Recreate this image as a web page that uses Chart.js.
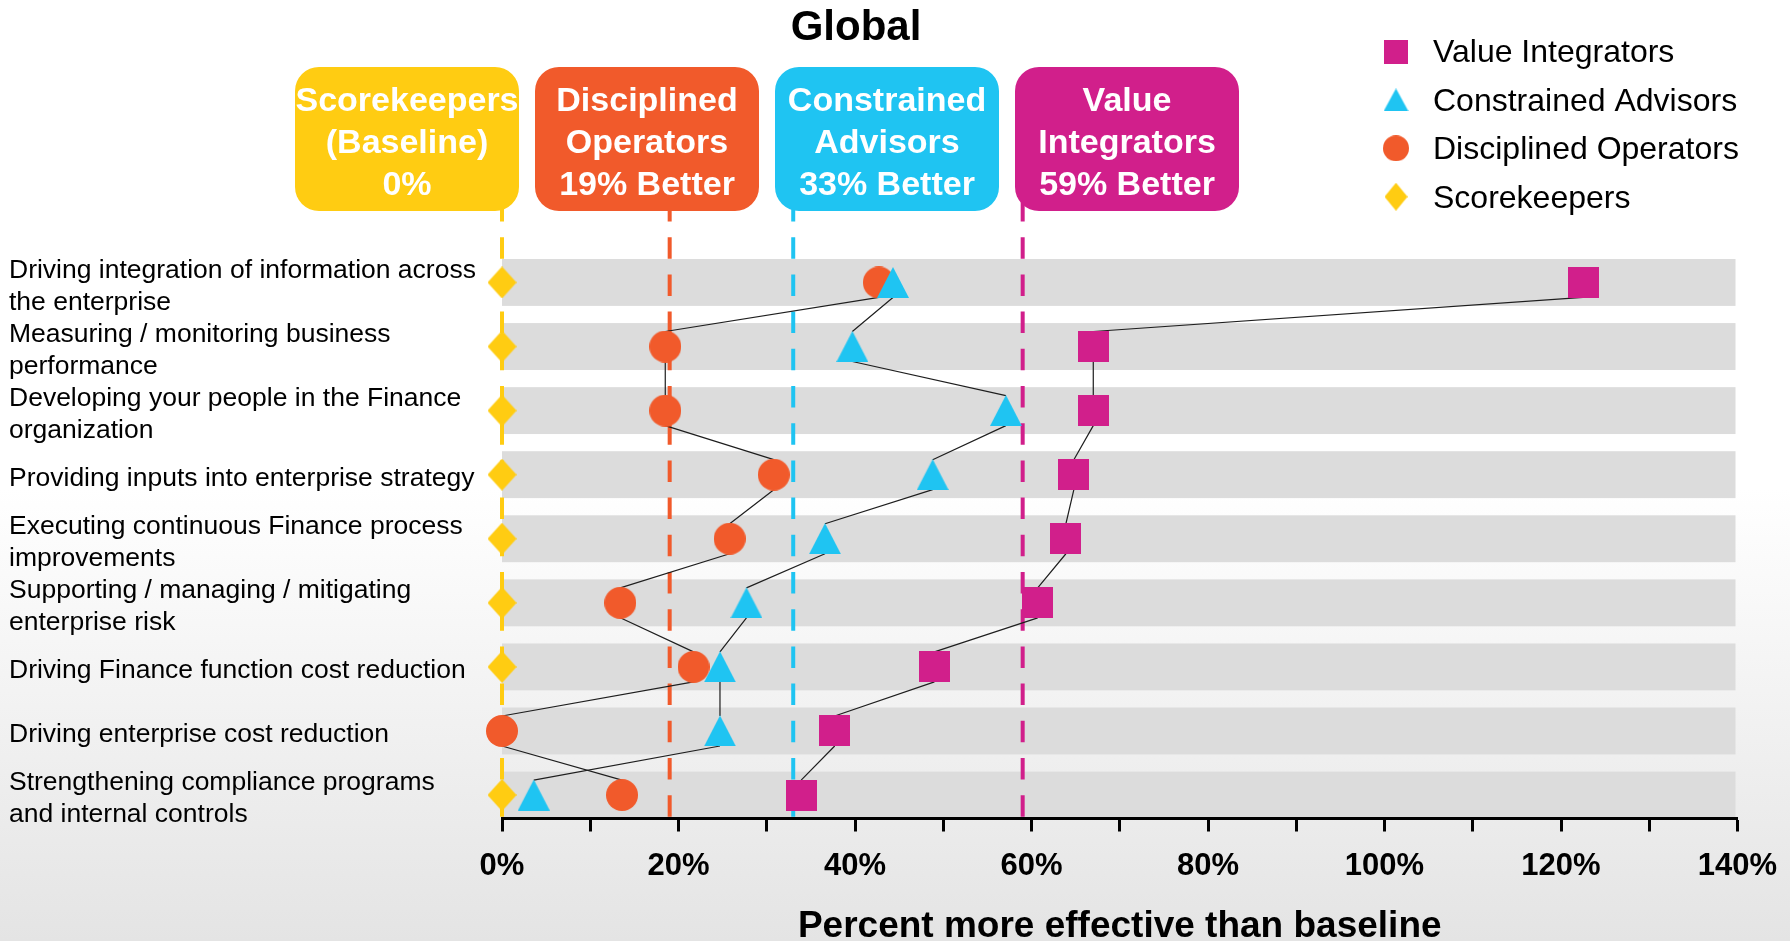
<!DOCTYPE html>
<html>
<head>
<meta charset="utf-8">
<title>Global</title>
<script src="https://cdn.jsdelivr.net/npm/chart.js"></script>
<style>
  html, body { margin: 0; padding: 0; overflow: hidden; }
  body {
    width: 1790px; height: 941px;
    background: linear-gradient(to bottom, #ffffff 0%, #ffffff 52%, #e4e4e4 100%);
  }
  canvas { display: block; }
</style>
</head>
<body>
<canvas id="chart" width="1790" height="941"></canvas>
<script>
const FONT = '"Liberation Sans", Arial, Helvetica, sans-serif';

const categories = [
  ['Driving integration of information across', 'the enterprise'],
  ['Measuring / monitoring business', 'performance'],
  ['Developing your people in the Finance', 'organization'],
  'Providing inputs into enterprise strategy',
  ['Executing continuous Finance process', 'improvements'],
  ['Supporting / managing / mitigating', 'enterprise risk'],
  'Driving Finance function cost reduction',
  'Driving enterprise cost reduction',
  ['Strengthening compliance programs', 'and internal controls']
];

// percent more effective than baseline, one value per category
const valueIntegrators     = [122.5, 67.0, 67.0, 64.8, 63.9, 60.7, 49.0, 37.7, 33.9];
const constrainedAdvisors  = [44.3, 39.7, 57.1, 48.8, 36.6, 27.7, 24.7, 24.7, 3.6];
const disciplinedOperators = [42.7, 18.5, 18.5, 30.8, 25.8, 13.4, 21.7, 0.0, 13.6];
const scorekeepers         = [0, 0, 0, 0, 0, 0, 0, 0, 0];

// group averages shown in the header boxes
const groupNames    = [['Scorekeepers', '(Baseline)'], ['Disciplined', 'Operators'], ['Constrained', 'Advisors'], ['Value', 'Integrators']];
const groupAverages = [0, 19, 33, 59];

const xMax = 140;
const xStep = 10;
const xLabelStep = 20;

const colors = {
  yellow: '#ffcc12',
  orange: '#f15a2b',
  cyan: '#1fc4f2',
  magenta: '#d11f8b'
};
const groupColors = [colors.yellow, colors.orange, colors.cyan, colors.magenta];

function marker(shape, w, h, color) {
  const c = document.createElement('canvas');
  c.width = w; c.height = h;
  const g = c.getContext('2d');
  g.fillStyle = color;
  g.beginPath();
  if (shape === 'square') {
    g.rect(0, 0, w, h);
  } else if (shape === 'triangle') {
    g.moveTo(w / 2, 0); g.lineTo(w, h); g.lineTo(0, h); g.closePath();
  } else if (shape === 'circle') {
    g.ellipse(w / 2, h / 2, w / 2, h / 2, 0, 0, Math.PI * 2);
  } else {
    g.moveTo(w / 2, 0); g.lineTo(w, h / 2); g.lineTo(w / 2, h); g.lineTo(0, h / 2); g.closePath();
  }
  g.fill();
  return c;
}

const series = [
  { label: 'Value Integrators', values: valueIntegrators, color: colors.magenta,
    point: marker('square', 31, 31, colors.magenta), key: marker('square', 24, 24, colors.magenta), linked: true },
  { label: 'Constrained Advisors', values: constrainedAdvisors, color: colors.cyan,
    point: marker('triangle', 32, 31, colors.cyan), key: marker('triangle', 25, 23, colors.cyan), linked: true },
  { label: 'Disciplined Operators', values: disciplinedOperators, color: colors.orange,
    point: marker('circle', 32, 32, colors.orange), key: marker('circle', 26, 26, colors.orange), linked: true },
  { label: 'Scorekeepers', values: scorekeepers, color: colors.yellow,
    point: marker('diamond', 29, 32, colors.yellow), key: marker('diamond', 23, 28, colors.yellow), linked: false }
];

const BAND_SHARE = 0.732;

const decorations = {
  id: 'decorations',
  beforeDraw(chart) {
    const { ctx, scales: { x, y } } = chart;
    const unit = Math.abs(y.getPixelForValue(2) - y.getPixelForValue(1));
    const half = unit * BAND_SHARE / 2;
    ctx.save();
    ctx.fillStyle = '#dcdcdc';
    categories.forEach((_, i) => {
      const cy = y.getPixelForValue(i + 1);
      ctx.fillRect(x.getPixelForValue(0), cy - half, x.getPixelForValue(xMax) - x.getPixelForValue(0) - 2, half * 2);
    });
    ctx.restore();
  },
  beforeDatasetsDraw(chart) {
    const { ctx, chartArea, scales: { x, y } } = chart;
    ctx.save();
    // dashed average lines hanging from the header boxes
    ctx.lineWidth = 4;
    ctx.setLineDash([21.5, 15.7]);
    groupAverages.forEach((v, i) => {
      const px = x.getPixelForValue(v);
      ctx.strokeStyle = groupColors[i];
      ctx.beginPath();
      ctx.moveTo(px, 200);
      ctx.lineTo(px, chartArea.bottom - 1);
      ctx.stroke();
    });
    // thin connectors run from the bottom of one marker to the top of the next
    ctx.setLineDash([]);
    ctx.lineWidth = 1.2;
    ctx.strokeStyle = '#1e1e1e';
    const r = 15;
    series.filter(s => s.linked).forEach(s => {
      ctx.beginPath();
      for (let i = 0; i < s.values.length - 1; i++) {
        ctx.moveTo(x.getPixelForValue(s.values[i]), y.getPixelForValue(i + 1) + r);
        ctx.lineTo(x.getPixelForValue(s.values[i + 1]), y.getPixelForValue(i + 2) - r);
      }
      ctx.stroke();
    });
    ctx.restore();
  },
  afterDraw(chart) {
    const { ctx } = chart;
    ctx.save();

    // title
    ctx.fillStyle = '#000';
    ctx.font = 'bold 42px ' + FONT;
    ctx.textAlign = 'center';
    ctx.textBaseline = 'middle';
    ctx.fillText('Global', 856, 28);

    // header boxes
    const boxW = 224, boxH = 144, boxTop = 67;
    groupAverages.forEach((v, i) => {
      const left = 295 + i * 240;
      ctx.fillStyle = groupColors[i];
      ctx.beginPath();
      ctx.roundRect(left, boxTop, boxW, boxH, 24);
      ctx.fill();
      ctx.fillStyle = '#fff';
      ctx.font = 'bold 34px ' + FONT;
      const lines = groupNames[i].concat(v === 0 ? v + '%' : v + '% Better');
      lines.forEach((t, j) => ctx.fillText(t, left + boxW / 2, 102 + j * 41.7));
    });

    // legend
    ctx.textAlign = 'left';
    ctx.font = '32px ' + FONT;
    series.forEach((s, i) => {
      const cy = 51.5 + i * 48.4;
      ctx.drawImage(s.key, 1396 - s.key.width / 2, cy - s.key.height / 2);
      ctx.fillStyle = '#000';
      ctx.fillText(s.label, 1433, cy + 2);
    });
    ctx.restore();
  }
};

new Chart(document.getElementById('chart'), {
  type: 'scatter',
  data: {
    datasets: series.map(s => ({
      label: s.label,
      data: s.values.map((v, i) => ({ x: v, y: i + 1 })),
      pointStyle: s.point,
      pointRadius: 16,
      backgroundColor: s.color,
      borderColor: s.color,
      showLine: false,
      clip: false
    }))
  },
  options: {
    responsive: false,
    animation: false,
    events: [],
    layout: { padding: { left: 9, top: 259, right: 52.5, bottom: 0 } },
    plugins: {
      legend: { display: false },
      tooltip: { enabled: false },
      title: { display: false }
    },
    scales: {
      x: {
        type: 'linear',
        min: 0,
        max: xMax,
        ticks: {
          stepSize: xStep,
          autoSkip: false,
          maxRotation: 0,
          padding: 16,
          color: '#000',
          font: { family: FONT, size: 31, weight: 'bold' },
          callback: v => (v % xLabelStep === 0 ? v + '%' : '')
        },
        grid: { drawOnChartArea: false, drawTicks: true, tickLength: 13, tickWidth: 3, tickColor: '#000' },
        border: { display: true, color: '#000', width: 3 },
        title: {
          display: true,
          text: 'Percent more effective than baseline',
          color: '#000',
          font: { family: FONT, size: 37, weight: 'bold', lineHeight: 1 },
          padding: { top: 0, bottom: -4 }
        },
        afterFit: s => {
          s.height = 122.5;
          // edge labels fit inside the layout padding already
          s.paddingLeft = 0;
          s.paddingRight = 0;
        }
      },
      y: {
        type: 'linear',
        reverse: true,
        min: 1 - BAND_SHARE / 2,
        max: categories.length + BAND_SHARE / 2,
        afterBuildTicks: s => { s.ticks = categories.map((_, i) => ({ value: i + 1 })); },
        ticks: {
          crossAlign: 'far',
          autoSkip: false,
          padding: 0,
          labelOffset: 4,
          color: '#000',
          font: { family: FONT, size: 26.5, lineHeight: 1.2 },
          callback: (v, i) => categories[i]
        },
        grid: { display: false },
        border: { display: false },
        afterFit: s => { s.width = 493; }
      }
    }
  },
  plugins: [decorations]
});
</script>
</body>
</html>
